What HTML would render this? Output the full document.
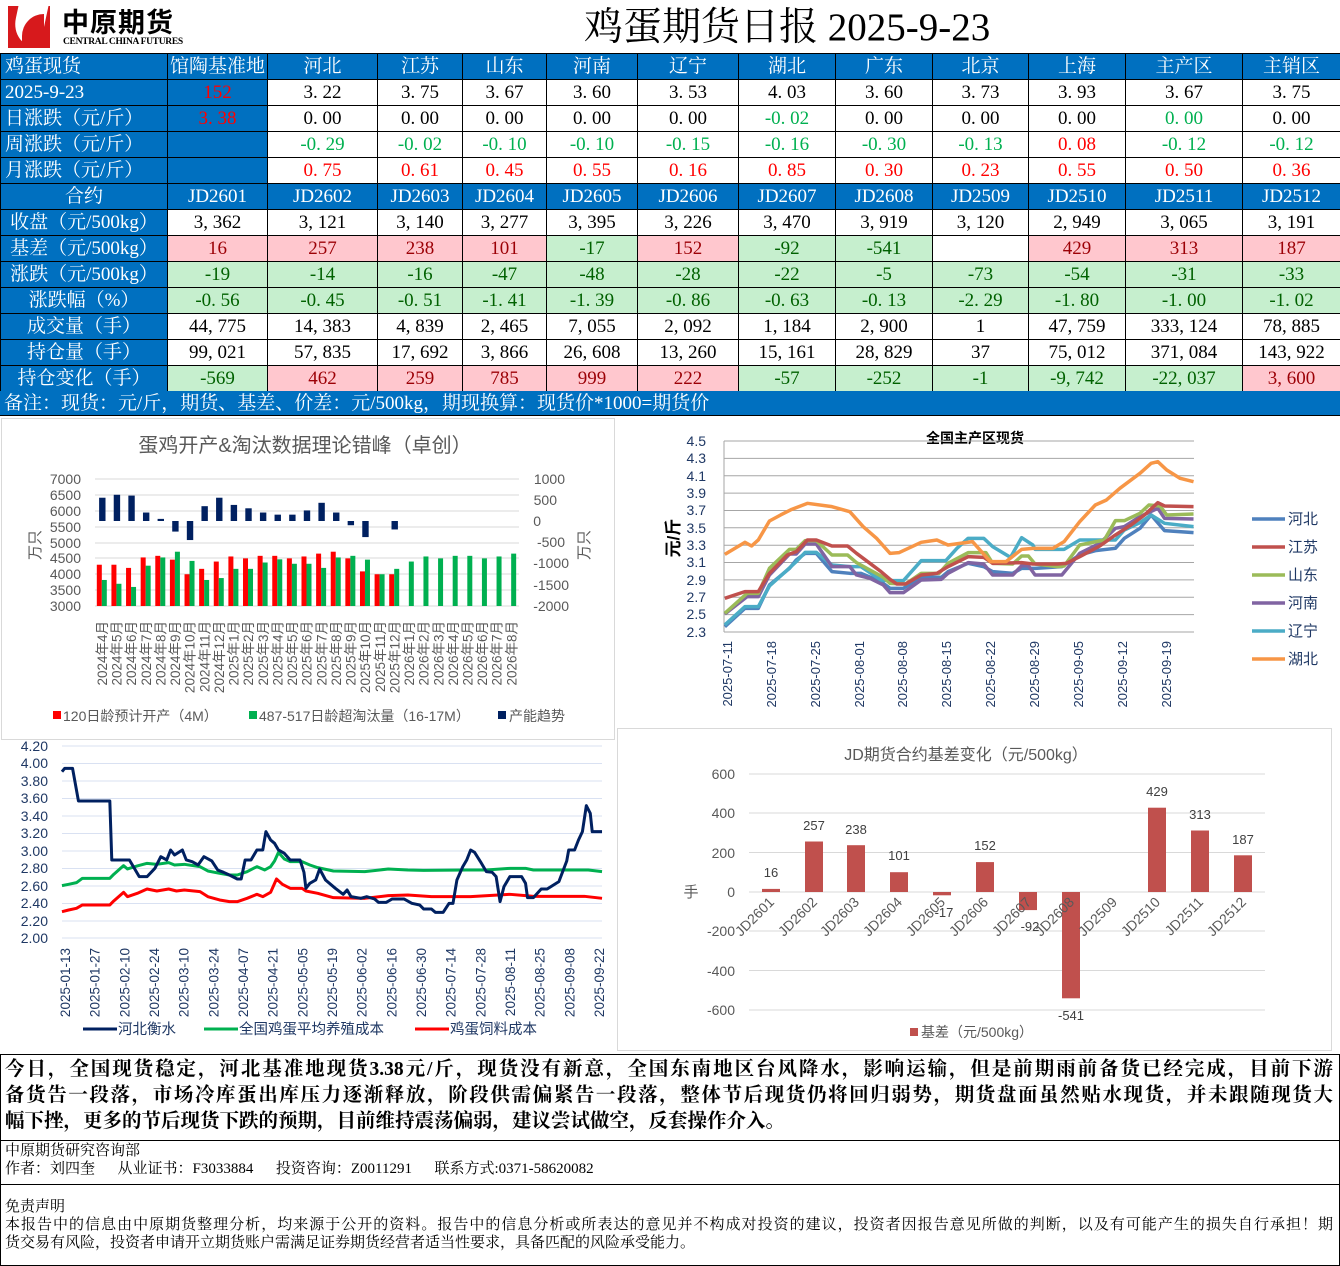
<!DOCTYPE html>
<html><head><meta charset="utf-8">
<style>
*{margin:0;padding:0;box-sizing:border-box}
body{width:1340px;height:1266px;background:#fff;position:relative;overflow:hidden;font-family:"Liberation Serif","Noto Serif CJK SC",serif}
.abs{position:absolute}
table{position:absolute;left:0;top:53px;border-collapse:collapse;table-layout:fixed;width:1340px}
td{height:26px;border:1px solid #000;text-align:center;font-size:19px;line-height:24px;padding:0;white-space:nowrap;overflow:hidden}
td.h{background:#0070c0;color:#fff}
td.l{text-align:left;padding-left:4px}
.r{color:#ff0000}.g{color:#00b050}
.p{background:#ffc7ce;color:#9c0006}
.q{background:#c6efce;color:#006100}
.note{position:absolute;left:0;top:391px;width:1340px;height:25px;background:#0070c0;color:#fff;font-size:19px;line-height:25px;padding-left:4px;border-bottom:1px solid #000}
.para{position:absolute;left:5px;width:1328px;font-size:19.5px;font-weight:bold;line-height:26px;font-family:"Liberation Serif","Noto Serif CJK SC",serif}
.j{text-align:justify;text-align-last:justify}
.sm{font-size:15px;line-height:18px;font-family:"Liberation Serif","Noto Serif CJK SC",serif}
svg text{font-family:"Liberation Sans","Noto Sans CJK SC",sans-serif}
</style></head><body>
<!-- logo -->
<div class="abs" style="left:8px;top:6px;width:42px;height:42px;background:#d7191c"></div>
<div class="abs" style="left:14px;top:6px;width:30px;height:42px;background:#fff;border-radius:0 0 0 30px;transform:skewX(-12deg)"></div>
<div class="abs" style="left:22px;top:14px;width:22px;height:34px;background:#d7191c;border-radius:22px 0 0 0"></div>
<div class="abs" style="left:62px;top:6px;font-size:27px;font-weight:bold;font-family:'Noto Sans CJK SC',sans-serif;letter-spacing:1px;line-height:30px">中原期货</div>
<div class="abs" style="left:63px;top:37px;font-size:9.5px;font-weight:bold;font-family:'Liberation Serif',serif;letter-spacing:-0.3px">CENTRAL CHINA FUTURES</div>
<div class="abs" style="left:584px;top:5px;font-size:39px;line-height:46px;font-family:'Liberation Serif','Noto Serif CJK SC',serif">鸡蛋期货日报 2025-9-23</div>

<table>
<colgroup><col style="width:167px"><col style="width:100px"><col style="width:110px"><col style="width:85px"><col style="width:84px"><col style="width:91px"><col style="width:101px"><col style="width:97px"><col style="width:97px"><col style="width:96px"><col style="width:97px"><col style="width:117px"><col style="width:98px"></colgroup>
<tr><td class="h l">鸡蛋现货</td><td class="h">馆陶基准地</td><td class="h">河北</td><td class="h">江苏</td><td class="h">山东</td><td class="h">河南</td><td class="h">辽宁</td><td class="h">湖北</td><td class="h">广东</td><td class="h">北京</td><td class="h">上海</td><td class="h">主产区</td><td class="h">主销区</td></tr>
<tr><td class="h l">2025-9-23</td><td class="h" style="color:#ff0000">152</td><td>3. 22</td><td>3. 75</td><td>3. 67</td><td>3. 60</td><td>3. 53</td><td>4. 03</td><td>3. 60</td><td>3. 73</td><td>3. 93</td><td>3. 67</td><td>3. 75</td></tr>
<tr><td class="h l">日涨跌（元/斤）</td><td class="h" style="color:#ff0000">3. 38</td><td>0. 00</td><td>0. 00</td><td>0. 00</td><td>0. 00</td><td>0. 00</td><td class="g">-0. 02</td><td>0. 00</td><td>0. 00</td><td>0. 00</td><td class="g">0. 00</td><td>0. 00</td></tr>
<tr><td class="h l">周涨跌（元/斤）</td><td class="h"></td><td class="g">-0. 29</td><td class="g">-0. 02</td><td class="g">-0. 10</td><td class="g">-0. 10</td><td class="g">-0. 15</td><td class="g">-0. 16</td><td class="g">-0. 30</td><td class="g">-0. 13</td><td class="r">0. 08</td><td class="g">-0. 12</td><td class="g">-0. 12</td></tr>
<tr><td class="h l">月涨跌（元/斤）</td><td class="h"></td><td class="r">0. 75</td><td class="r">0. 61</td><td class="r">0. 45</td><td class="r">0. 55</td><td class="r">0. 16</td><td class="r">0. 85</td><td class="r">0. 30</td><td class="r">0. 23</td><td class="r">0. 55</td><td class="r">0. 50</td><td class="r">0. 36</td></tr>
<tr><td class="h">合约</td><td class="h">JD2601</td><td class="h">JD2602</td><td class="h">JD2603</td><td class="h">JD2604</td><td class="h">JD2605</td><td class="h">JD2606</td><td class="h">JD2607</td><td class="h">JD2608</td><td class="h">JD2509</td><td class="h">JD2510</td><td class="h">JD2511</td><td class="h">JD2512</td></tr>
<tr><td class="h">收盘（元/500kg）</td><td>3, 362</td><td>3, 121</td><td>3, 140</td><td>3, 277</td><td>3, 395</td><td>3, 226</td><td>3, 470</td><td>3, 919</td><td>3, 120</td><td>2, 949</td><td>3, 065</td><td>3, 191</td></tr>
<tr><td class="h">基差（元/500kg）</td><td class="p">16</td><td class="p">257</td><td class="p">238</td><td class="p">101</td><td class="q">-17</td><td class="p">152</td><td class="q">-92</td><td class="q">-541</td><td></td><td class="p">429</td><td class="p">313</td><td class="p">187</td></tr>
<tr><td class="h">涨跌（元/500kg）</td><td class="q">-19</td><td class="q">-14</td><td class="q">-16</td><td class="q">-47</td><td class="q">-48</td><td class="q">-28</td><td class="q">-22</td><td class="q">-5</td><td class="q">-73</td><td class="q">-54</td><td class="q">-31</td><td class="q">-33</td></tr>
<tr><td class="h">涨跌幅（%）</td><td class="q">-0. 56</td><td class="q">-0. 45</td><td class="q">-0. 51</td><td class="q">-1. 41</td><td class="q">-1. 39</td><td class="q">-0. 86</td><td class="q">-0. 63</td><td class="q">-0. 13</td><td class="q">-2. 29</td><td class="q">-1. 80</td><td class="q">-1. 00</td><td class="q">-1. 02</td></tr>
<tr><td class="h">成交量（手）</td><td>44, 775</td><td>14, 383</td><td>4, 839</td><td>2, 465</td><td>7, 055</td><td>2, 092</td><td>1, 184</td><td>2, 900</td><td>1</td><td>47, 759</td><td>333, 124</td><td>78, 885</td></tr>
<tr><td class="h">持仓量（手）</td><td>99, 021</td><td>57, 835</td><td>17, 692</td><td>3, 866</td><td>26, 608</td><td>13, 260</td><td>15, 161</td><td>28, 829</td><td>37</td><td>75, 012</td><td>371, 084</td><td>143, 922</td></tr>
<tr><td class="h">持仓变化（手）</td><td class="q">-569</td><td class="p">462</td><td class="p">259</td><td class="p">785</td><td class="p">999</td><td class="p">222</td><td class="q">-57</td><td class="q">-252</td><td class="q">-1</td><td class="q">-9, 742</td><td class="q">-22, 037</td><td class="p">3, 600</td></tr>
</table>
<div class="note">备注：现货：元/斤，期货、基差、价差：元/500kg，期现换算：现货价*1000=期货价</div>

<svg class="abs" style="left:0;top:0" width="1340" height="1266" viewBox="0 0 1340 1266">
<!-- chart 1 -->
<rect x="1.5" y="418.5" width="613" height="321" fill="none" stroke="#d9d9d9"/>
<text x="305" y="452" font-size="20" fill="#595959" text-anchor="middle">蛋鸡开产&amp;淘汰数据理论错峰（卓创）</text>
<g stroke="#d9d9d9" stroke-width="1">
<line x1="95" x2="519" y1="479" y2="479"/><line x1="95" x2="519" y1="495" y2="495"/><line x1="95" x2="519" y1="511" y2="511"/><line x1="95" x2="519" y1="527" y2="527"/><line x1="95" x2="519" y1="543" y2="543"/><line x1="95" x2="519" y1="558" y2="558"/><line x1="95" x2="519" y1="574" y2="574"/><line x1="95" x2="519" y1="590" y2="590"/><line x1="95" x2="519" y1="606" y2="606"/>
</g>
<g font-size="14" fill="#595959" text-anchor="end">
<text x="81" y="484">7000</text><text x="81" y="500">6500</text><text x="81" y="516">6000</text><text x="81" y="532">5500</text><text x="81" y="548">5000</text><text x="81" y="563">4500</text><text x="81" y="579">4000</text><text x="81" y="595">3500</text><text x="81" y="611">3000</text>
</g>
<g font-size="14" fill="#595959" text-anchor="end">
<text x="565" y="484">1000</text><text x="557" y="505">500</text><text x="541" y="526">0</text><text x="565" y="547">-500</text><text x="569" y="568">-1000</text><text x="569" y="590">-1500</text><text x="569" y="611">-2000</text>
</g>
<text transform="translate(40,545) rotate(-90)" font-size="15" fill="#595959" text-anchor="middle">万只</text>
<text transform="translate(589,545) rotate(-90)" font-size="15" fill="#595959" text-anchor="middle">万只</text>
<g id="c1bars"></g>
<g font-size="13.5" fill="#595959" text-anchor="end">
<text transform="translate(107,621) rotate(-90)">2024年4月</text><text transform="translate(121.6,621) rotate(-90)">2024年5月</text><text transform="translate(136.2,621) rotate(-90)">2024年6月</text><text transform="translate(150.9,621) rotate(-90)">2024年7月</text><text transform="translate(165.5,621) rotate(-90)">2024年8月</text><text transform="translate(180.1,621) rotate(-90)">2024年9月</text><text transform="translate(194.7,621) rotate(-90)">2024年10月</text><text transform="translate(209.3,621) rotate(-90)">2024年11月</text><text transform="translate(224,621) rotate(-90)">2024年12月</text><text transform="translate(238.6,621) rotate(-90)">2025年1月</text><text transform="translate(253.2,621) rotate(-90)">2025年2月</text><text transform="translate(267.8,621) rotate(-90)">2025年3月</text><text transform="translate(282.4,621) rotate(-90)">2025年4月</text><text transform="translate(297.1,621) rotate(-90)">2025年5月</text><text transform="translate(311.7,621) rotate(-90)">2025年6月</text><text transform="translate(326.3,621) rotate(-90)">2025年7月</text><text transform="translate(340.9,621) rotate(-90)">2025年8月</text><text transform="translate(355.5,621) rotate(-90)">2025年9月</text><text transform="translate(370.2,621) rotate(-90)">2025年10月</text><text transform="translate(384.8,621) rotate(-90)">2025年11月</text><text transform="translate(399.4,621) rotate(-90)">2025年12月</text><text transform="translate(414,621) rotate(-90)">2026年1月</text><text transform="translate(428.6,621) rotate(-90)">2026年2月</text><text transform="translate(443.3,621) rotate(-90)">2026年3月</text><text transform="translate(457.9,621) rotate(-90)">2026年4月</text><text transform="translate(472.5,621) rotate(-90)">2026年5月</text><text transform="translate(487.1,621) rotate(-90)">2026年6月</text><text transform="translate(501.7,621) rotate(-90)">2026年7月</text><text transform="translate(516.4,621) rotate(-90)">2026年8月</text>
</g>
<g font-size="14" fill="#595959">
<rect x="53" y="711" width="8" height="8" fill="#ff0000"/><text x="63" y="721">120日龄预计开产（4M）</text>
<rect x="249" y="711" width="8" height="8" fill="#00b050"/><text x="259" y="721">487-517日龄超淘汰量（16-17M）</text>
<rect x="498" y="711" width="8" height="8" fill="#002060"/><text x="509" y="721">产能趋势</text>
</g>

<!-- chart 2 -->
<text x="975" y="443" font-size="14" font-weight="bold" fill="#000" text-anchor="middle">全国主产区现货</text>
<g stroke="#a6a6a6" stroke-width="1">
<line x1="724" x2="1194" y1="441" y2="441"/><line x1="724" x2="1194" y1="458.4" y2="458.4"/><line x1="724" x2="1194" y1="475.7" y2="475.7"/><line x1="724" x2="1194" y1="493.1" y2="493.1"/><line x1="724" x2="1194" y1="510.5" y2="510.5"/><line x1="724" x2="1194" y1="527.8" y2="527.8"/><line x1="724" x2="1194" y1="545.2" y2="545.2"/><line x1="724" x2="1194" y1="562.5" y2="562.5"/><line x1="724" x2="1194" y1="579.9" y2="579.9"/><line x1="724" x2="1194" y1="597.3" y2="597.3"/><line x1="724" x2="1194" y1="614.6" y2="614.6"/><line x1="724" x2="1194" y1="632" y2="632"/>
<line x1="724" x2="724" y1="441" y2="632"/>
</g>
<g font-size="14" fill="#1f3864" text-anchor="end">
<text x="706" y="446">4.5</text><text x="706" y="463">4.3</text><text x="706" y="481">4.1</text><text x="706" y="498">3.9</text><text x="706" y="515">3.7</text><text x="706" y="533">3.5</text><text x="706" y="550">3.3</text><text x="706" y="567">3.1</text><text x="706" y="585">2.9</text><text x="706" y="602">2.7</text><text x="706" y="619">2.5</text><text x="706" y="637">2.3</text>
</g>
<text transform="translate(679,538) rotate(-90)" font-size="17" font-weight="bold" fill="#000" text-anchor="middle">元/斤</text>
<g font-size="13" fill="#1f3864" text-anchor="end">
<text transform="translate(732,641) rotate(-90)">2025-07-11</text><text transform="translate(776,641) rotate(-90)">2025-07-18</text><text transform="translate(820,641) rotate(-90)">2025-07-25</text><text transform="translate(864,641) rotate(-90)">2025-08-01</text><text transform="translate(907,641) rotate(-90)">2025-08-08</text><text transform="translate(951,641) rotate(-90)">2025-08-15</text><text transform="translate(995,641) rotate(-90)">2025-08-22</text><text transform="translate(1039,641) rotate(-90)">2025-08-29</text><text transform="translate(1083,641) rotate(-90)">2025-09-05</text><text transform="translate(1127,641) rotate(-90)">2025-09-12</text><text transform="translate(1171,641) rotate(-90)">2025-09-19</text>
</g>
<g transform="translate(640,420) scale(0.4464,0.3333)" fill="none" stroke-width="3.5" stroke-linejoin="round">
<polyline vector-effect="non-scaling-stroke" stroke="#4f81bd" points="190,620 235,565 265,565 290,495 335,445 350,420 370,400 395,400 430,455 470,460 495,460 540,485 560,505 590,505 630,470 675,472 690,455 735,430 770,440 790,455 835,460 855,445 885,445 945,440 985,405 1020,392 1065,385 1085,355 1120,325 1145,285 1175,332 1240,338"/>
<polyline vector-effect="non-scaling-stroke" stroke="#4bacc6" points="190,615 235,560 265,560 290,498 330,450 350,425 370,397 395,397 430,435 470,440 495,440 540,480 560,482 590,482 630,422 685,422 710,385 735,355 770,355 790,380 830,412 855,353 880,375 885,388 950,388 985,360 1065,360 1085,330 1120,308 1145,285 1175,310 1240,320"/>
<polyline vector-effect="non-scaling-stroke" stroke="#8064a2" points="190,582 240,530 265,530 290,465 335,402 350,402 370,372 395,372 430,440 470,440 485,465 515,475 545,495 560,518 590,518 630,480 675,478 690,460 735,428 770,432 790,465 835,465 855,437 870,437 885,465 945,465 985,400 1030,370 1065,325 1085,320 1120,290 1160,265 1175,295 1240,297"/>
<polyline vector-effect="non-scaling-stroke" stroke="#9bbb59" points="190,580 240,520 265,520 290,445 335,388 350,388 370,362 395,362 430,405 465,405 485,428 515,450 545,472 560,490 595,492 630,460 670,460 690,430 735,398 775,398 790,430 835,432 855,408 870,408 885,432 935,440 950,438 985,375 1040,360 1065,302 1085,302 1120,280 1140,255 1165,258 1180,285 1240,282"/>
<polyline vector-effect="non-scaling-stroke" stroke="#c0504d" points="190,535 235,515 265,515 290,460 330,405 350,395 375,360 395,360 430,378 465,378 485,400 515,430 540,455 560,478 575,492 595,492 630,465 665,460 690,440 735,410 770,412 790,430 855,428 880,432 935,432 955,430 985,410 1030,378 1065,345 1100,315 1130,285 1160,248 1175,258 1240,260"/>
<polyline vector-effect="non-scaling-stroke" stroke="#f79646" points="190,403 235,367 250,378 265,360 290,303 315,285 340,268 375,250 430,260 470,275 500,320 530,355 560,400 580,398 630,367 665,360 690,375 745,365 765,395 785,425 820,425 855,388 880,385 925,385 950,365 985,305 1020,255 1045,240 1075,205 1120,160 1145,130 1160,125 1180,150 1210,175 1240,185"/>
</g>
<g font-size="15" fill="#1f3864" stroke-width="3.5">
<line x1="1252" x2="1285" y1="519" y2="519" stroke="#4f81bd"/><text x="1288" y="524">河北</text>
<line x1="1252" x2="1285" y1="547" y2="547" stroke="#c0504d"/><text x="1288" y="552">江苏</text>
<line x1="1252" x2="1285" y1="575" y2="575" stroke="#9bbb59"/><text x="1288" y="580">山东</text>
<line x1="1252" x2="1285" y1="603" y2="603" stroke="#8064a2"/><text x="1288" y="608">河南</text>
<line x1="1252" x2="1285" y1="631" y2="631" stroke="#4bacc6"/><text x="1288" y="636">辽宁</text>
<line x1="1252" x2="1285" y1="659" y2="659" stroke="#f79646"/><text x="1288" y="664">湖北</text>
</g>

<!-- chart 3 -->
<g stroke="#d9e1f2" stroke-width="1">
<line x1="62" x2="602" y1="746" y2="746"/><line x1="62" x2="602" y1="763.5" y2="763.5"/><line x1="62" x2="602" y1="781" y2="781"/><line x1="62" x2="602" y1="798.5" y2="798.5"/><line x1="62" x2="602" y1="816" y2="816"/><line x1="62" x2="602" y1="833.5" y2="833.5"/><line x1="62" x2="602" y1="851" y2="851"/><line x1="62" x2="602" y1="868.5" y2="868.5"/><line x1="62" x2="602" y1="886" y2="886"/><line x1="62" x2="602" y1="903.5" y2="903.5"/><line x1="62" x2="602" y1="921" y2="921"/><line x1="62" x2="602" y1="938" y2="938"/>
</g>
<g font-size="14" fill="#1f3864" text-anchor="end">
<text x="48" y="751">4.20</text><text x="48" y="768">4.00</text><text x="48" y="786">3.80</text><text x="48" y="803">3.60</text><text x="48" y="821">3.40</text><text x="48" y="838">3.20</text><text x="48" y="856">3.00</text><text x="48" y="873">2.80</text><text x="48" y="891">2.60</text><text x="48" y="908">2.40</text><text x="48" y="926">2.20</text><text x="48" y="943">2.00</text>
</g>
<g font-size="13.5" fill="#1f3864" text-anchor="end">
<text transform="translate(70,948) rotate(-90)">2025-01-13</text><text transform="translate(99.7,948) rotate(-90)">2025-01-27</text><text transform="translate(129.3,948) rotate(-90)">2025-02-10</text><text transform="translate(159,948) rotate(-90)">2025-02-24</text><text transform="translate(188.7,948) rotate(-90)">2025-03-10</text><text transform="translate(218.3,948) rotate(-90)">2025-03-24</text><text transform="translate(248,948) rotate(-90)">2025-04-07</text><text transform="translate(277.7,948) rotate(-90)">2025-04-21</text><text transform="translate(307.3,948) rotate(-90)">2025-05-05</text><text transform="translate(337,948) rotate(-90)">2025-05-19</text><text transform="translate(366.7,948) rotate(-90)">2025-06-02</text><text transform="translate(396.3,948) rotate(-90)">2025-06-16</text><text transform="translate(426,948) rotate(-90)">2025-06-30</text><text transform="translate(455.7,948) rotate(-90)">2025-07-14</text><text transform="translate(485.3,948) rotate(-90)">2025-07-28</text><text transform="translate(515,948) rotate(-90)">2025-08-11</text><text transform="translate(544.7,948) rotate(-90)">2025-08-25</text><text transform="translate(574.3,948) rotate(-90)">2025-09-08</text><text transform="translate(604,948) rotate(-90)">2025-09-22</text>
</g>
<g transform="translate(0,735) scale(0.3922,0.3333)" fill="none" stroke-width="3" stroke-linejoin="round">
<polyline vector-effect="non-scaling-stroke" stroke="#00b050" points="158,452 175,448 195,443 210,430 280,430 290,418 315,392 325,402 350,393 375,385 400,388 430,383 445,390 470,388 510,395 530,408 560,415 585,420 605,420 630,410 655,395 675,405 690,395 700,378 710,352 725,372 740,380 770,380 790,390 810,398 850,408 930,410 990,402 1040,405 1080,406 1190,405 1240,405 1300,400 1340,400 1360,405 1500,405 1535,410"/>
<polyline vector-effect="non-scaling-stroke" stroke="#ff0000" points="158,530 175,525 195,520 210,510 280,510 290,498 315,472 325,485 350,475 375,462 400,468 430,462 450,468 470,465 510,470 530,485 560,495 585,500 605,500 630,490 655,478 670,485 690,472 705,432 720,448 740,460 770,460 780,468 810,475 850,488 930,490 990,482 1040,480 1100,485 1200,485 1300,478 1340,482 1360,484 1490,484 1535,490"/>
<polyline vector-effect="non-scaling-stroke" stroke="#002060" points="158,110 165,100 185,100 200,198 280,198 285,375 330,375 340,395 355,425 375,425 395,400 410,365 425,375 435,345 445,360 465,345 475,375 490,380 505,390 520,365 540,378 555,405 570,412 585,420 605,432 615,432 625,375 640,375 655,345 670,345 678,290 690,315 700,325 710,345 725,355 740,375 765,375 775,412 780,460 790,445 805,435 815,402 830,435 855,460 875,478 885,465 895,485 920,490 935,485 955,492 965,502 985,502 1000,492 1030,492 1050,505 1070,510 1080,522 1100,522 1110,532 1130,532 1145,505 1155,505 1165,435 1180,395 1190,375 1200,345 1210,352 1225,380 1240,410 1255,412 1265,425 1275,500 1285,455 1300,425 1330,425 1340,445 1345,488 1360,488 1380,462 1395,462 1425,440 1445,378 1450,345 1465,345 1475,315 1485,290 1495,212 1505,235 1510,290 1535,290"/>
</g>
<g font-size="14.5" fill="#1f3864">
<line x1="83" x2="117" y1="1029" y2="1029" stroke="#002060" stroke-width="3"/><text x="118" y="1034">河北衡水</text>
<line x1="204" x2="238" y1="1029" y2="1029" stroke="#00b050" stroke-width="3"/><text x="239" y="1034">全国鸡蛋平均养殖成本</text>
<line x1="415" x2="449" y1="1029" y2="1029" stroke="#ff0000" stroke-width="3"/><text x="450" y="1034">鸡蛋饲料成本</text>
</g>

<!-- chart 4 -->
<rect x="617.5" y="728.5" width="714" height="322" fill="none" stroke="#d9d9d9"/>
<text x="966" y="760" font-size="16" fill="#595959" text-anchor="middle">JD期货合约基差变化（元/500kg）</text>
<g stroke="#d9d9d9">
<line x1="749" x2="1265" y1="774" y2="774"/><line x1="749" x2="1265" y1="813" y2="813"/><line x1="749" x2="1265" y1="852.5" y2="852.5"/><line x1="749" x2="1265" y1="892" y2="892"/><line x1="749" x2="1265" y1="931" y2="931"/><line x1="749" x2="1265" y1="970.5" y2="970.5"/><line x1="749" x2="1265" y1="1010" y2="1010"/>
</g>
<g font-size="14" fill="#595959" text-anchor="end">
<text x="735" y="779">600</text><text x="735" y="818">400</text><text x="735" y="858">200</text><text x="735" y="897">0</text><text x="735" y="936">-200</text><text x="735" y="976">-400</text><text x="735" y="1015">-600</text>
</g>
<text x="691" y="897" font-size="15" fill="#595959" text-anchor="middle">手</text>
<g fill="#c0504d">
<rect x="762" y="888.9" width="18" height="3.1"/>
<rect x="805" y="841.5" width="18" height="50.5"/>
<rect x="847" y="845.2" width="18" height="46.8"/>
<rect x="890" y="872.2" width="18" height="19.8"/>
<rect x="933" y="892" width="18" height="3.3"/>
<rect x="976" y="862.1" width="18" height="29.9"/>
<rect x="1019" y="892" width="18" height="18.1"/>
<rect x="1062" y="892" width="18" height="106.3"/>
<rect x="1148" y="807.7" width="18" height="84.3"/>
<rect x="1191" y="830.5" width="18" height="61.5"/>
<rect x="1234" y="855.3" width="18" height="36.7"/>
</g>
<g font-size="13" fill="#404040" text-anchor="middle">
<text x="771" y="877">16</text><text x="814" y="830">257</text><text x="856" y="834">238</text><text x="899" y="860">101</text><text x="944" y="917">-17</text><text x="985" y="850">152</text><text x="1030" y="931">-92</text><text x="1071" y="1020">-541</text><text x="1157" y="796">429</text><text x="1200" y="819">313</text><text x="1243" y="844">187</text>
</g>
<g font-size="14" fill="#595959" text-anchor="end">
<text transform="translate(775,903) rotate(-45)">JD2601</text><text transform="translate(818,903) rotate(-45)">JD2602</text><text transform="translate(860,903) rotate(-45)">JD2603</text><text transform="translate(903,903) rotate(-45)">JD2604</text><text transform="translate(946,903) rotate(-45)">JD2605</text><text transform="translate(989,903) rotate(-45)">JD2606</text><text transform="translate(1032,903) rotate(-45)">JD2607</text><text transform="translate(1075,903) rotate(-45)">JD2608</text><text transform="translate(1118,903) rotate(-45)">JD2509</text><text transform="translate(1161,903) rotate(-45)">JD2510</text><text transform="translate(1204,903) rotate(-45)">JD2511</text><text transform="translate(1247,903) rotate(-45)">JD2512</text>
</g>
<rect x="910" y="1028" width="8" height="8" fill="#c0504d"/>
<text x="921" y="1037" font-size="14" fill="#595959">基差（元/500kg）</text>

<!-- bottom lines -->
<line x1="0" x2="1340" y1="1054.5" y2="1054.5" stroke="#000"/>
<line x1="0" x2="1340" y1="1140.5" y2="1140.5" stroke="#000"/>
<line x1="0" x2="1340" y1="1184.5" y2="1184.5" stroke="#000"/>
<line x1="0" x2="1340" y1="1265.5" y2="1265.5" stroke="#000"/>
<line x1="0.5" x2="0.5" y1="1054" y2="1266" stroke="#000"/>
<line x1="1339.5" x2="1339.5" y1="1054" y2="1266" stroke="#000"/>
</svg>

<script>
(function(){
var red=[4300,4300,4200,4530,4580,4460,4000,4170,4400,4560,4500,4580,4580,4500,4560,4650,4710,4500,4090,4000,4000];
var green=[3820,3700,3600,4270,4530,4710,4420,3820,3880,4170,4170,4370,4470,4330,4330,4200,4530,4580,4460,4000,4170,4400,4560,4500,4580,4580,4500,4560,4650];
var navy=[550,620,600,200,50,-250,-450,350,550,380,300,200,150,150,250,430,200,-100,-380,null,-200];
var g=document.getElementById('c1bars'),s='';
function ly(v){return 606-(v-3000)*0.03175}
function ry(v){return 521-v*0.04233}
for(var i=0;i<29;i++){var c=95+14.62*(i+0.5);
if(i<red.length){var y=ly(red[i]);s+='<rect x="'+(c-5.5)+'" y="'+y+'" width="5" height="'+(606-y)+'" fill="#ff0000"/>';}
var y2=ly(green[i]);s+='<rect x="'+(c-0.5)+'" y="'+y2+'" width="5" height="'+(606-y2)+'" fill="#00b050"/>';
if(i<navy.length&&navy[i]!==null){var a=ry(navy[i]),b=521;s+='<rect x="'+(c-3.2)+'" y="'+Math.min(a,b)+'" width="6.4" height="'+Math.abs(a-b)+'" fill="#002060"/>';}}
g.innerHTML=s;})();
</script>

<div class="para j" style="top:1057px">今日，全国现货稳定，河北基准地现货3.38元/斤，现货没有新意，全国东南地区台风降水，影响运输，但是前期雨前备货已经完成，目前下游</div>
<div class="para j" style="top:1083px">备货告一段落，市场冷库蛋出库压力逐渐释放，阶段供需偏紧告一段落，整体节后现货仍将回归弱势，期货盘面虽然贴水现货，并未跟随现货大</div>
<div class="para" style="top:1109px">幅下挫，更多的节后现货下跌的预期，目前维持震荡偏弱，建议尝试做空，反套操作介入。</div>
<div class="abs sm" style="left:5px;top:1142px">中原期货研究咨询部</div>
<div class="abs sm" style="left:5px;top:1160px;white-space:pre">作者：刘四奎      从业证书：F3033884      投资咨询：Z0011291      联系方式:0371-58620082</div>
<div class="abs sm" style="left:5px;top:1198px">免责声明</div>
<div class="abs sm j" style="left:5px;top:1216px;width:1328px">本报告中的信息由中原期货整理分析，均来源于公开的资料。报告中的信息分析或所表达的意见并不构成对投资的建议，投资者因报告意见所做的判断，以及有可能产生的损失自行承担！期</div>
<div class="abs sm" style="left:5px;top:1234px">货交易有风险，投资者申请开立期货账户需满足证券期货经营者适当性要求，具备匹配的风险承受能力。</div>
</body></html>
